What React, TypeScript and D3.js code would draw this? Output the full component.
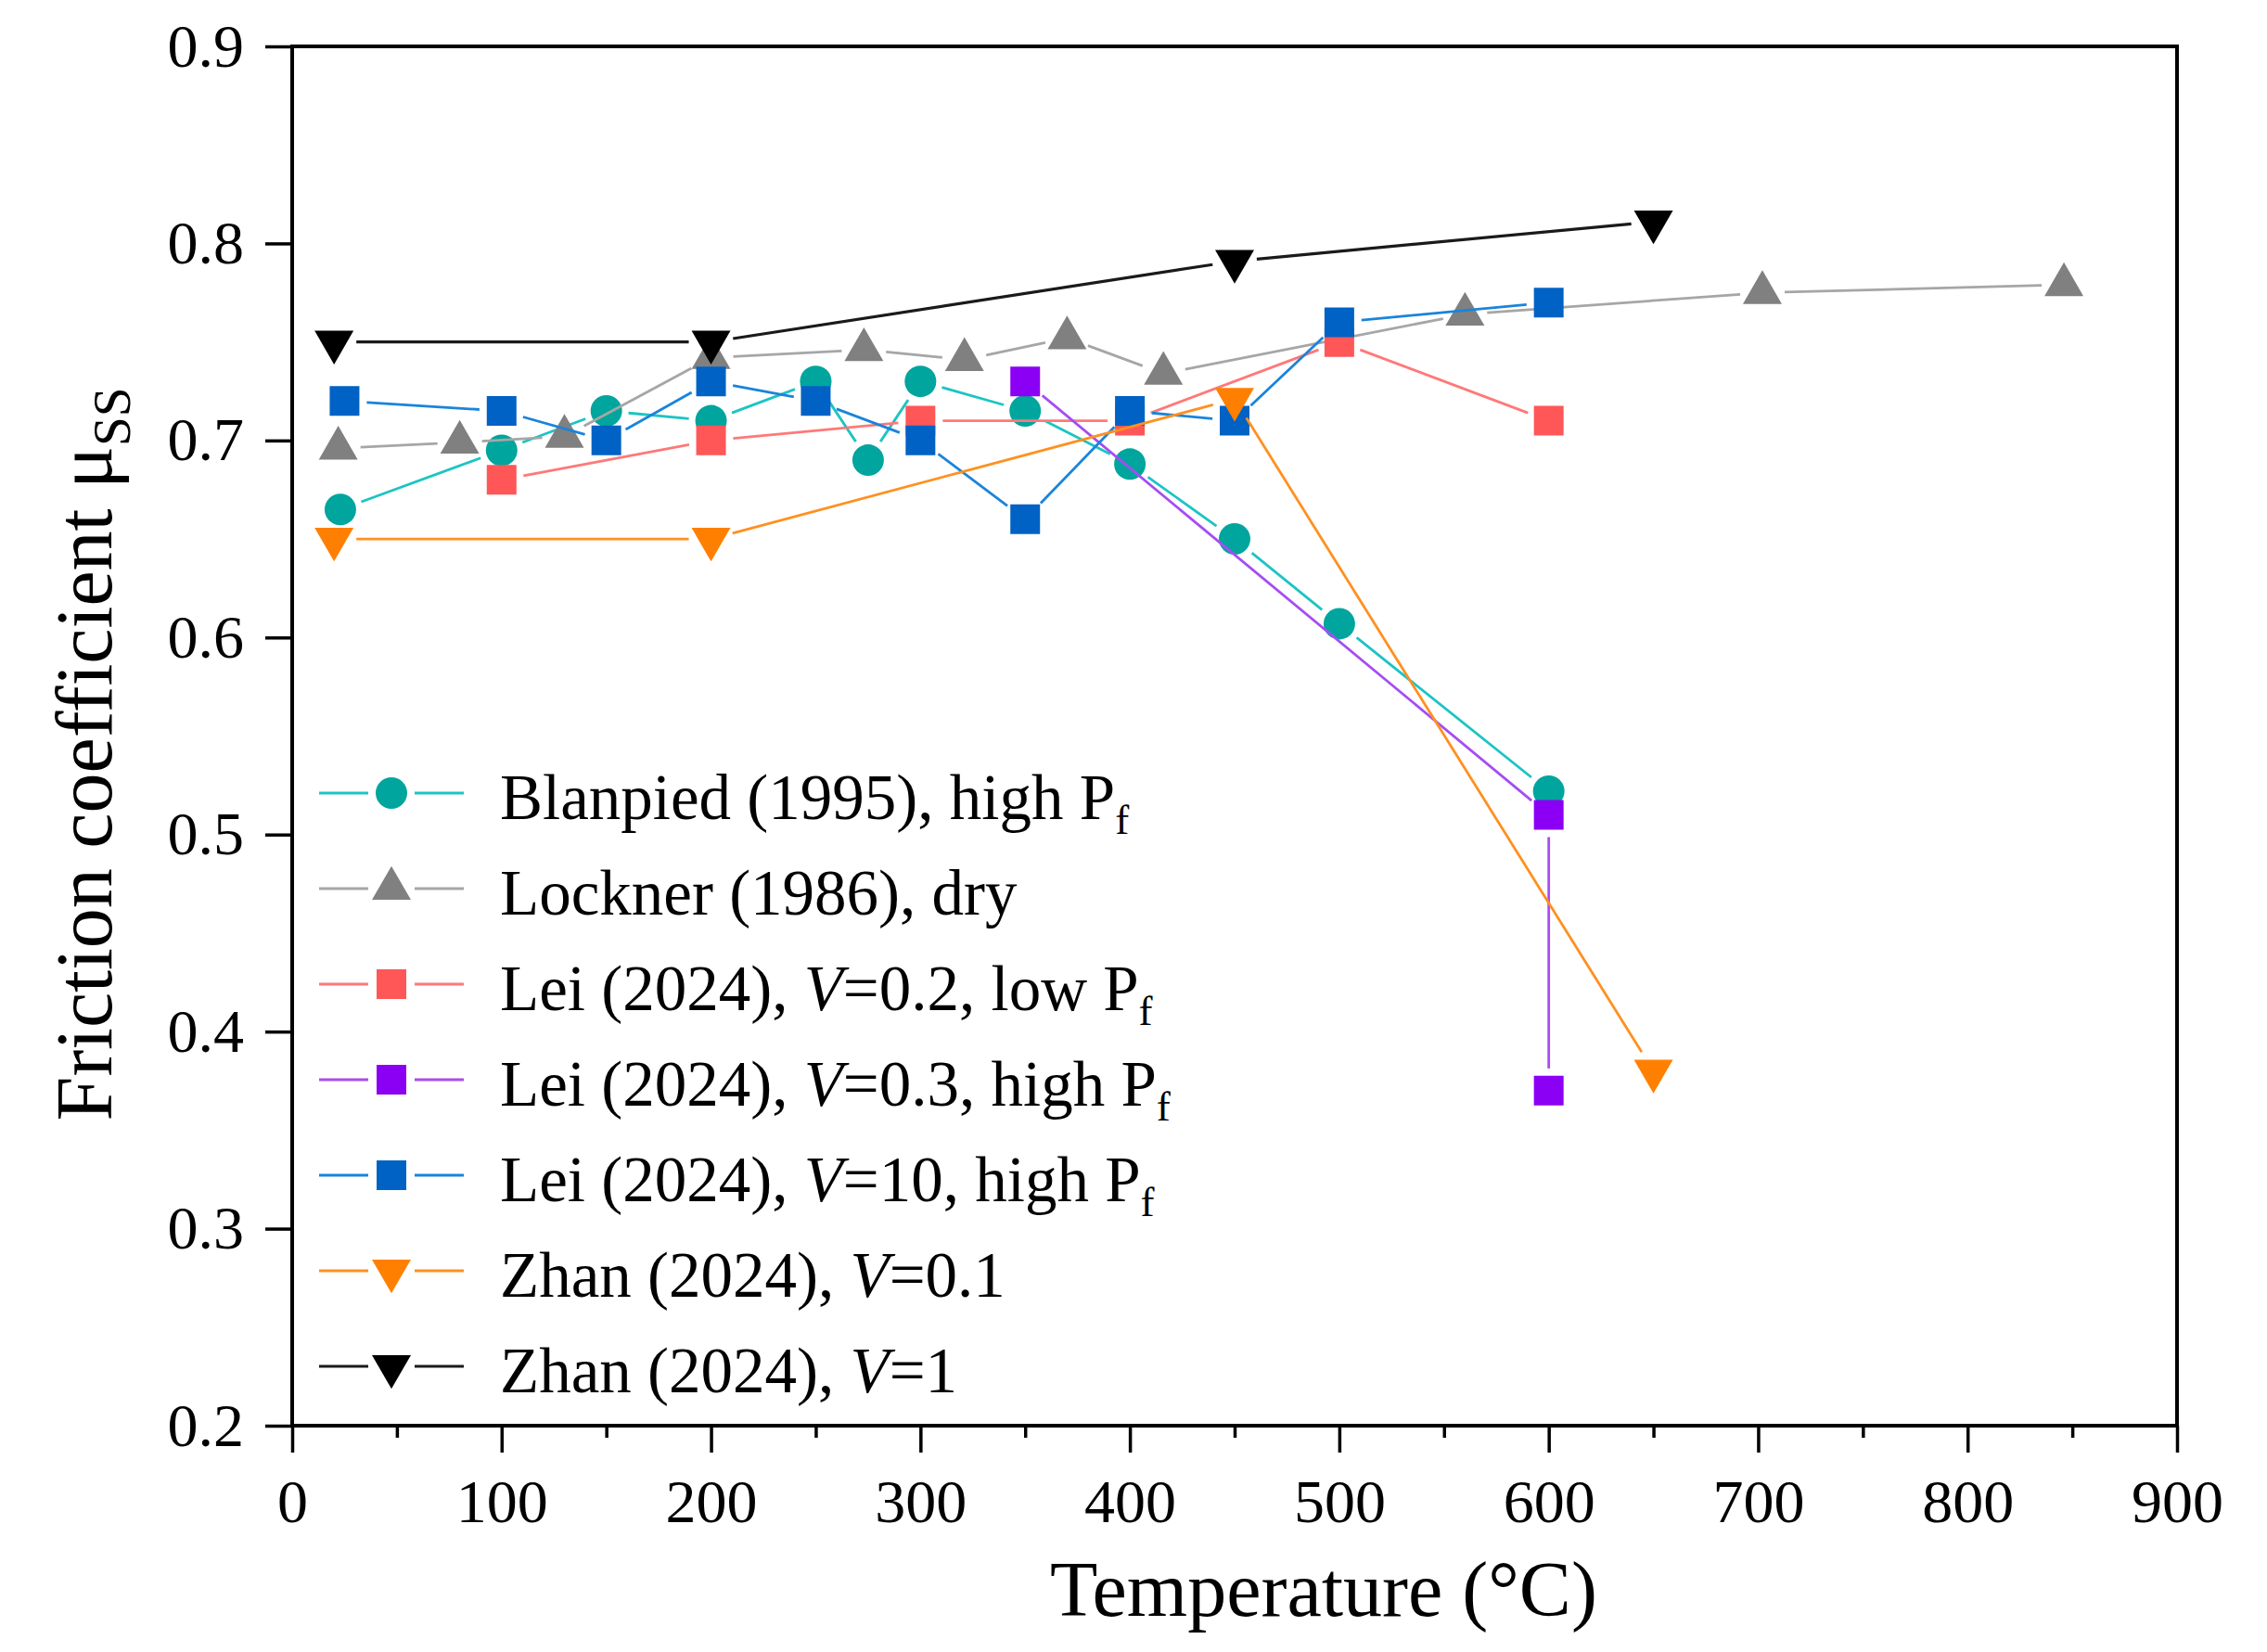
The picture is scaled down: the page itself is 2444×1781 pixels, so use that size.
import * as React from 'react';
import * as d3 from 'd3';

// temperature (°C) and steady-state friction coefficient of each data set
const blanpiedTemp = [23, 100, 150, 200, 250, 275, 300, 350, 400, 450, 500, 600];
const blanpiedMu = [0.665, 0.695, 0.715, 0.71, 0.73, 0.69, 0.73, 0.715, 0.688, 0.65, 0.607, 0.522];

const locknerTemp = [22, 80, 130, 200, 273, 321, 370, 416, 560, 702, 846];
const locknerMu = [0.696, 0.699, 0.702, 0.742, 0.746, 0.741, 0.752, 0.734, 0.764, 0.775, 0.779];

const lei02Temp = [100, 200, 300, 400, 500, 600];
const lei02Mu = [0.68, 0.7, 0.71, 0.71, 0.75, 0.71];

const lei03Temp = [350, 600, 600];
const lei03Mu = [0.73, 0.51, 0.37];

const lei10Temp = [25, 100, 150, 200, 250, 300, 350, 400, 450, 500, 600];
const lei10Mu = [0.72, 0.715, 0.7, 0.73, 0.72, 0.7, 0.66, 0.715, 0.71, 0.76, 0.77];

const zhan01Temp = [20, 200, 450, 650];
const zhan01Mu = [0.65, 0.65, 0.721, 0.38];

const zhan1Temp = [20, 200, 450, 650];
const zhan1Mu = [0.75, 0.75, 0.791, 0.811];

// axis ticks
const xTicks = [0, 100, 200, 300, 400, 500, 600, 700, 800, 900];
const xMinorTicks = [50, 150, 250, 350, 450, 550, 650, 750, 850];
const yTicks = [0.2, 0.3, 0.4, 0.5, 0.6, 0.7, 0.8, 0.9];

interface ILabelPart {
	text: string;
	italic?: boolean;
	sub?: boolean;
}

// legend labels, split where the style changes (italic V, subscript f)
const legendLabels: ILabelPart[][] = [
	[{ text: 'Blanpied (1995), high P' }, { text: 'f', sub: true }],
	[{ text: 'Lockner (1986), dry' }],
	[{ text: 'Lei (2024), ' }, { text: 'V', italic: true }, { text: '=0.2, low P' }, { text: 'f', sub: true }],
	[{ text: 'Lei (2024), ' }, { text: 'V', italic: true }, { text: '=0.3, high P' }, { text: 'f', sub: true }],
	[{ text: 'Lei (2024), ' }, { text: 'V', italic: true }, { text: '=10, high P' }, { text: 'f', sub: true }],
	[{ text: 'Zhan (2024), ' }, { text: 'V', italic: true }, { text: '=0.1' }],
	[{ text: 'Zhan (2024), ' }, { text: 'V', italic: true }, { text: '=1' }],
];

type SymbolKind = 'circle' | 'square' | 'up' | 'down';

interface ISeries {
	temp: number[];
	mu: number[];
	symbol: SymbolKind;
	fill: string;
	stroke: string;
	lineWidth: number;
	label: ILabelPart[];
}

const series: ISeries[] = [
	{ temp: blanpiedTemp, mu: blanpiedMu, symbol: 'circle', fill: '#00a59d', stroke: '#1cc4c4', lineWidth: 2.8, label: legendLabels[0] },
	{ temp: locknerTemp, mu: locknerMu, symbol: 'up', fill: '#808080', stroke: '#a6a6a6', lineWidth: 2.8, label: legendLabels[1] },
	{ temp: lei02Temp, mu: lei02Mu, symbol: 'square', fill: '#ff5757', stroke: '#ff7878', lineWidth: 2.8, label: legendLabels[2] },
	{ temp: lei03Temp, mu: lei03Mu, symbol: 'square', fill: '#8b00f5', stroke: '#a64df2', lineWidth: 2.8, label: legendLabels[3] },
	{ temp: lei10Temp, mu: lei10Mu, symbol: 'square', fill: '#0062c4', stroke: '#1a84da', lineWidth: 2.8, label: legendLabels[4] },
	{ temp: zhan01Temp, mu: zhan01Mu, symbol: 'down', fill: '#ff8000', stroke: '#ff9020', lineWidth: 2.8, label: legendLabels[5] },
	{ temp: zhan1Temp, mu: zhan1Mu, symbol: 'down', fill: '#000000', stroke: '#1a1a1a', lineWidth: 3.2, label: legendLabels[6] },
];

const FONT = '"Liberation Serif", "Times New Roman", serif';
const WIDTH = 2444;
const HEIGHT = 1781;
const margin = { left: 315, right: 97, top: 50, bottom: 244 };
// distance kept free between a symbol and its connecting line (Origin style)
const LINE_GAP = 24;

class FrictionChart extends React.Component<{}, {}> {
	private svgRef = React.createRef<SVGSVGElement>();

	public render() {
		return <svg ref={this.svgRef} width={WIDTH} height={HEIGHT} style={{ display: 'block', background: '#fff' }} />;
	}

	public componentDidMount() {
		document.body.style.margin = '0';
		const svg = d3.select(this.svgRef.current);
		svg.selectAll('*').remove();

		const x = d3.scaleLinear().domain([0, 900]).range([margin.left, WIDTH - margin.right]);
		const y = d3.scaleLinear().domain([0.2, 0.9]).range([HEIGHT - margin.bottom, margin.top]);

		this.drawAxes(svg, x, y);

		const plot = svg.append('g').attr('class', 'plot');
		series.forEach((s) => {
			const points: [number, number][] = s.temp.map((t, i) => [x(t), y(s.mu[i])]);
			this.drawGappedLine(plot, points, s.stroke, s.lineWidth);
			points.forEach((p) => this.drawSymbol(plot, p, s));
		});

		this.drawLegend(svg);
	}

	public symbolPath(kind: SymbolKind): string {
		// sizes are areas, chosen to match the marker sizes in the figure
		if (kind === 'circle') return d3.symbol(d3.symbolCircle, Math.PI * 17 * 17)() as string;
		if (kind === 'square') return d3.symbol(d3.symbolSquare, 32 * 32)() as string;
		return d3.symbol(d3.symbolTriangle, 763)() as string;
	}

	public drawSymbol(parent: d3.Selection<any, any, any, any>, p: [number, number], s: ISeries): void {
		parent
			.append('path')
			.attr('d', this.symbolPath(s.symbol))
			.attr('transform', `translate(${p[0]},${p[1]})${s.symbol === 'down' ? ' rotate(180)' : ''}`)
			.attr('fill', s.fill);
	}

	public drawSegment(parent: d3.Selection<any, any, any, any>, x1: number, y1: number, x2: number, y2: number, color: string, width: number): void {
		parent
			.append('line')
			.attr('x1', x1)
			.attr('y1', y1)
			.attr('x2', x2)
			.attr('y2', y2)
			.attr('stroke', color)
			.attr('stroke-width', width);
	}

	public drawGappedLine(parent: d3.Selection<any, any, any, any>, points: [number, number][], color: string, width: number): void {
		// connect consecutive points, leaving a small gap around every symbol
		for (let i = 0; i < points.length - 1; i++) {
			const [x0, y0] = points[i];
			const [x1, y1] = points[i + 1];
			const len = Math.hypot(x1 - x0, y1 - y0);
			if (len <= 2 * LINE_GAP) continue;
			const ux = (x1 - x0) / len;
			const uy = (y1 - y0) / len;
			this.drawSegment(parent, x0 + ux * LINE_GAP, y0 + uy * LINE_GAP, x1 - ux * LINE_GAP, y1 - uy * LINE_GAP, color, width);
		}
	}

	public drawAxes(svg: d3.Selection<any, any, any, any>, x: d3.ScaleLinear<number, number>, y: d3.ScaleLinear<number, number>): void {
		const bottom = HEIGHT - margin.bottom;

		// minor ticks on the temperature axis
		svg
			.append('g')
			.attr('transform', `translate(0,${bottom})`)
			.call(d3.axisBottom(x).tickValues(xMinorTicks).tickSize(13).tickSizeOuter(0).tickFormat(() => ''))
			.call((g) => g.select('.domain').remove())
			.call((g) => g.selectAll('.tick line').attr('stroke-width', 3.5));

		// major ticks and labels on the temperature axis
		svg
			.append('g')
			.attr('transform', `translate(0,${bottom})`)
			.call(d3.axisBottom(x).tickValues(xTicks).tickSize(29).tickPadding(28).tickSizeOuter(0).tickFormat(d3.format('d')))
			.call((g) => g.select('.domain').remove())
			.call((g) => g.selectAll('.tick line').attr('stroke-width', 3.5))
			.attr('font-family', FONT)
			.attr('font-size', 66);

		// friction axis
		svg
			.append('g')
			.attr('transform', `translate(${margin.left},0)`)
			.call(d3.axisLeft(y).tickValues(yTicks).tickSize(29).tickPadding(23).tickSizeOuter(0).tickFormat(d3.format('.1f')))
			.call((g) => g.select('.domain').remove())
			.call((g) => g.selectAll('.tick line').attr('stroke-width', 3.5))
			.attr('font-family', FONT)
			.attr('font-size', 66);

		// closed frame round the plot
		svg
			.append('rect')
			.attr('x', margin.left)
			.attr('y', margin.top)
			.attr('width', WIDTH - margin.left - margin.right)
			.attr('height', bottom - margin.top)
			.attr('fill', 'none')
			.attr('stroke', '#000')
			.attr('stroke-width', 4);

		// axis titles
		svg
			.append('text')
			.attr('x', 1427)
			.attr('y', 1742)
			.attr('text-anchor', 'middle')
			.attr('font-family', FONT)
			.attr('font-size', 84)
			.text('Temperature (°C)');

		const yTitle = svg
			.append('text')
			.attr('transform', 'translate(120,813) rotate(-90)')
			.attr('text-anchor', 'middle')
			.attr('font-family', FONT)
			.attr('font-size', 86);
		yTitle.append('tspan').text('Friction coefficient μ');
		yTitle.append('tspan').attr('font-size', 57).attr('dy', 20).text('SS');
	}

	public drawLegend(svg: d3.Selection<any, any, any, any>): void {
		const legend = svg.append('g').attr('class', 'legend');
		const lineStart = 344;
		const lineEnd = 500;
		const markX = (lineStart + lineEnd) / 2;
		const gap = 25;
		series.forEach((s, i) => {
			const rowY = 855 + i * 103;
			// line sample on both sides of the symbol, with a gap round it
			this.drawSegment(legend, lineStart, rowY, markX - gap, rowY, s.stroke, s.lineWidth);
			this.drawSegment(legend, markX + gap, rowY, lineEnd, rowY, s.stroke, s.lineWidth);
			this.drawSymbol(legend, [markX, rowY], s);
			const text = legend
				.append('text')
				.attr('x', 539)
				.attr('y', rowY + 28)
				.attr('font-family', FONT)
				.attr('font-size', 69);
			s.label.forEach((part) => {
				const span = text.append('tspan').text(part.text);
				if (part.italic) span.attr('font-style', 'italic');
				if (part.sub) span.attr('font-size', 45).attr('dy', 16);
			});
		});
	}
}

export default function App() {
	return <FrictionChart />;
}
